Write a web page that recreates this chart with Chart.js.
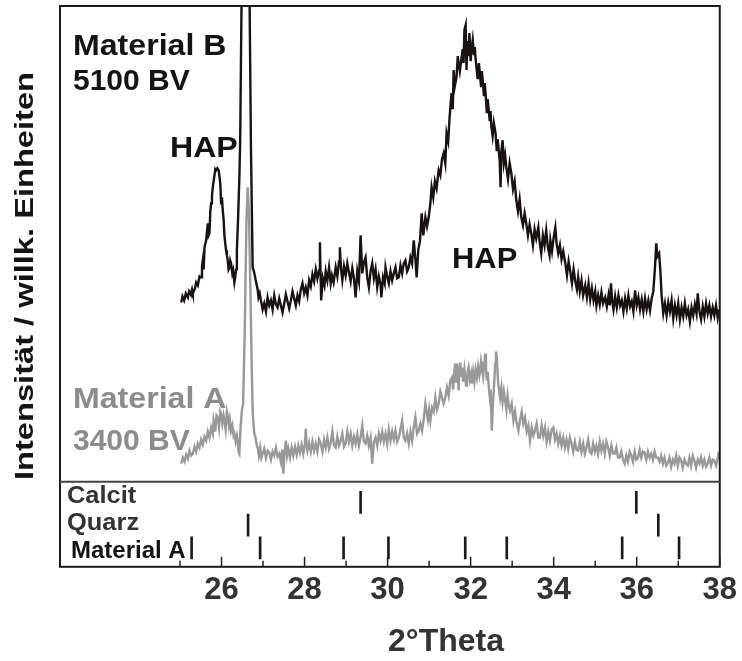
<!DOCTYPE html>
<html><head><meta charset="utf-8">
<script src="https://cdn.jsdelivr.net/npm/chart.js@4/dist/chart.umd.min.js"></script>
<style>html,body{margin:0;padding:0;background:#fff}#wrap{width:742px;height:661px;position:relative}</style>
</head><body><div id="wrap"><canvas id="c"></canvas></div>
<script>
// ---- data (2θ in degrees, intensity in arbitrary units) ----
const materialB2Theta = [
25.03,25.06,25.10,25.14,25.19,25.22,25.26,25.29,25.31,25.36,
25.39,25.43,25.47,25.51,25.53,25.55,25.57,25.59,25.63,25.67,
25.69,25.71,25.73,25.75,25.77,25.79,25.81,25.83,25.85,25.87,
25.90,25.93,25.95,25.97,25.99,26.01,26.03,26.05,26.07,26.09,
26.11,26.13,26.15,26.17,26.19,26.21,26.23,26.26,26.28,26.31,
26.33,26.35,26.37,26.40,26.43,26.45,26.58,26.71,26.75,26.78,
26.81,26.84,26.87,26.89,26.92,26.95,26.99,27.03,27.07,27.11,
27.15,27.19,27.23,27.27,27.31,27.35,27.39,27.43,27.47,27.51,
27.55,27.59,27.63,27.67,27.71,27.75,27.79,27.83,27.87,27.91,
27.95,27.99,28.03,28.07,28.11,28.15,28.19,28.23,28.27,28.31,
28.35,28.37,28.40,28.44,28.48,28.51,28.55,28.59,28.63,28.66,
28.70,28.75,28.79,28.83,28.85,28.88,28.91,28.95,28.99,29.03,
29.07,29.11,29.15,29.19,29.23,29.27,29.31,29.35,29.39,29.43,
29.47,29.51,29.55,29.59,29.63,29.67,29.71,29.75,29.79,29.83,
29.85,29.89,29.93,29.95,29.99,30.03,30.07,30.11,30.15,30.19,
30.23,30.27,30.31,30.35,30.39,30.43,30.47,30.51,30.55,30.59,
30.63,30.67,30.70,30.74,30.78,30.82,30.86,30.91,30.95,30.99,
31.03,31.06,31.10,31.14,31.18,31.23,31.27,31.31,31.35,31.39,
31.42,31.46,31.49,31.52,31.54,31.57,31.59,31.62,31.66,31.69,
31.71,31.74,31.78,31.81,31.83,31.85,31.88,31.90,31.92,31.95,
31.97,32.00,32.02,32.05,32.08,32.10,32.12,32.14,32.17,32.20,
32.22,32.25,32.27,32.29,32.32,32.34,32.36,32.39,32.41,32.43,
32.46,32.48,32.50,32.53,32.56,32.60,32.63,32.65,32.67,32.70,
32.72,32.74,32.77,32.80,32.83,32.86,32.90,32.94,32.98,33.02,
33.06,33.10,33.14,33.18,33.22,33.26,33.30,33.34,33.38,33.42,
33.46,33.50,33.54,33.58,33.63,33.66,33.70,33.74,33.78,33.82,
33.86,33.90,33.92,33.96,34.00,34.04,34.07,34.11,34.15,34.19,
34.23,34.28,34.32,34.36,34.40,34.44,34.48,34.52,34.56,34.59,
34.63,34.67,34.71,34.76,34.80,34.84,34.88,34.92,34.96,35.00,
35.03,35.07,35.11,35.15,35.19,35.24,35.28,35.32,35.35,35.38,
35.41,35.44,35.48,35.52,35.56,35.60,35.64,35.68,35.72,35.76,
35.80,35.84,35.88,35.92,35.96,36.00,36.04,36.08,36.12,36.16,
36.20,36.24,36.28,36.32,36.36,36.40,36.44,36.47,36.50,36.54,
36.57,36.60,36.64,36.68,36.72,36.76,36.80,36.84,36.88,36.92,
36.96,37.00,37.04,37.08,37.12,37.16,37.20,37.24,37.28,37.32,
37.36,37.40,37.44,37.47,37.51,37.55,37.59,37.63,37.67,37.71,
37.75,37.79,37.83,37.87,37.91,37.95,37.98];
const materialBIntensity = [
179,185,181,188,184,190,187,192,188,193,
199,196,205,204,215,221,212,234,241,258,
246,248,270,278,285,294,300,306,312,311,
313,311,305,298,278,284,271,262,246,238,
231,226,221,212,214,221,218,208,211,199,
204,212,231,264,304,341,900,331,214,210,
204,198,192,184,188,181,172,178,170,184,
176,181,172,186,177,174,183,176,169,178,
187,180,173,181,190,183,176,186,180,192,
198,188,194,186,201,195,207,200,212,203,
211,239,181,203,196,210,201,214,198,206,
199,214,205,220,234,212,201,215,206,218,
209,200,213,203,184,210,200,246,208,219,
224,204,194,210,218,203,212,194,205,197,
184,204,198,214,205,198,210,201,208,214,
203,204,216,208,218,221,210,214,224,218,
241,222,204,232,240,268,246,264,255,264,
278,294,284,300,293,311,306,322,328,318,
348,340,362,378,388,372,411,395,404,425,
418,410,423,432,418,451,456,411,440,425,
448,420,431,441,426,434,422,414,402,418,
408,395,410,401,385,398,388,368,382,374,
360,370,354,345,358,348,330,342,334,320,
294,330,341,318,326,314,302,318,308,292,
300,281,270,282,264,256,268,258,246,257,
248,236,252,243,254,240,228,246,236,251,
234,226,241,230,244,254,238,228,236,222,
230,218,206,220,210,198,212,200,192,204,
190,201,186,196,184,198,182,193,181,190,
176,186,177,189,178,184,175,186,176,198,
180,172,185,174,186,176,181,170,183,173,
186,175,180,170,191,176,184,172,182,170,
183,172,181,171,183,190,214,238,225,228,
210,186,168,178,166,179,170,181,163,176,
166,178,162,174,165,178,166,172,160,174,
166,177,168,188,170,162,175,165,178,168,
176,165,174,166,176,164,172];

const materialA2Theta = [
25.03,25.07,25.11,25.15,25.19,25.23,25.27,25.31,25.35,25.39,
25.43,25.47,25.51,25.55,25.59,25.63,25.67,25.71,25.75,25.79,
25.81,25.83,25.85,25.88,25.91,25.94,25.97,25.99,26.02,26.05,
26.07,26.10,26.13,26.15,26.18,26.20,26.23,26.26,26.29,26.31,
26.34,26.37,26.39,26.41,26.43,26.46,26.49,26.52,26.56,26.60,
26.63,26.66,26.70,26.73,26.75,26.77,26.79,26.82,26.85,26.87,
26.90,26.93,26.96,26.99,27.03,27.07,27.11,27.15,27.19,27.23,
27.27,27.31,27.35,27.39,27.43,27.46,27.49,27.52,27.55,27.58,
27.61,27.65,27.69,27.73,27.77,27.81,27.85,27.89,27.93,27.97,
28.01,28.03,28.05,28.07,28.11,28.15,28.19,28.23,28.27,28.31,
28.35,28.39,28.43,28.47,28.51,28.55,28.59,28.63,28.67,28.71,
28.75,28.79,28.83,28.87,28.91,28.95,28.99,29.03,29.07,29.11,
29.15,29.19,29.23,29.27,29.31,29.35,29.39,29.43,29.47,29.51,
29.55,29.59,29.63,29.67,29.71,29.75,29.79,29.83,29.87,29.91,
29.95,29.99,30.03,30.07,30.11,30.15,30.19,30.23,30.27,30.31,
30.35,30.39,30.43,30.47,30.51,30.55,30.59,30.63,30.67,30.71,
30.75,30.79,30.83,30.87,30.91,30.94,30.97,31.00,31.03,31.07,
31.11,31.15,31.19,31.23,31.27,31.31,31.35,31.39,31.43,31.47,
31.51,31.55,31.58,31.61,31.63,31.65,31.67,31.69,31.71,31.73,
31.75,31.77,31.79,31.82,31.85,31.87,31.89,31.91,31.93,31.95,
31.98,32.01,32.03,32.06,32.09,32.12,32.15,32.18,32.21,32.23,
32.25,32.27,32.30,32.33,32.35,32.37,32.39,32.41,32.43,32.46,
32.48,32.51,32.54,32.57,32.59,32.61,32.63,32.66,32.69,32.71,
32.74,32.77,32.80,32.83,32.86,32.89,32.92,32.95,32.99,33.03,
33.07,33.11,33.15,33.19,33.23,33.27,33.31,33.35,33.39,33.43,
33.47,33.51,33.55,33.59,33.63,33.67,33.71,33.75,33.79,33.83,
33.87,33.91,33.95,33.99,34.03,34.07,34.11,34.15,34.19,34.23,
34.27,34.31,34.35,34.39,34.43,34.47,34.51,34.55,34.59,34.63,
34.67,34.71,34.75,34.79,34.83,34.87,34.91,34.95,34.99,35.03,
35.07,35.11,35.15,35.19,35.23,35.27,35.31,35.35,35.39,35.43,
35.47,35.51,35.55,35.59,35.63,35.67,35.71,35.75,35.79,35.83,
35.87,35.91,35.95,35.99,36.03,36.07,36.11,36.15,36.19,36.23,
36.27,36.31,36.35,36.39,36.43,36.47,36.51,36.55,36.59,36.63,
36.67,36.71,36.75,36.79,36.83,36.87,36.91,36.95,36.99,37.03,
37.07,37.11,37.15,37.19,37.23,37.27,37.31,37.35,37.39,37.43,
37.47,37.51,37.55,37.59,37.63,37.67,37.71,37.75,37.79,37.83,
37.87,37.91,37.95,37.98];
const materialAIntensity = [
18,24,20,27,23,31,26,28,35,30,
38,34,42,37,45,41,50,44,54,48,
62,58,50,66,64,54,70,68,58,66,
61,52,70,66,56,62,51,56,46,48,
40,46,41,30,28,55,71,78,151,260,
294,270,181,110,71,58,48,44,36,34,
26,34,24,28,33,24,31,29,22,30,
26,34,25,28,20,32,8,30,41,26,
33,24,34,26,35,27,36,29,37,28,
38,53,36,31,39,30,40,31,38,30,
42,38,30,42,34,44,33,39,50,36,
34,45,36,41,48,35,38,50,40,48,
36,45,38,47,36,44,56,40,38,46,
36,44,18,40,44,36,48,41,50,40,
48,38,52,41,50,42,51,40,44,52,
61,44,41,48,38,50,41,54,64,48,
51,58,51,62,78,70,62,72,61,74,
70,84,72,78,90,84,78,84,94,86,
101,104,92,112,118,100,118,108,91,110,
119,106,114,100,112,104,96,98,110,114,
102,108,98,110,100,112,104,115,106,111,
120,114,105,118,128,112,101,110,98,85,
92,51,80,100,118,130,124,100,90,84,
94,80,90,81,72,86,76,71,78,61,
70,58,51,62,70,58,64,50,56,41,
54,46,51,58,44,44,56,46,54,40,
50,41,52,54,42,48,38,46,36,44,
34,42,33,44,38,30,40,32,31,40,
30,38,28,34,42,30,28,38,30,36,
28,40,31,38,28,40,34,26,36,28,
28,34,24,24,30,22,18,26,20,30,
26,20,30,22,24,32,24,30,29,22,
30,24,28,22,30,24,24,20,26,18,
24,16,19,24,15,22,18,26,16,24,
21,14,22,18,16,24,16,26,21,14,
22,18,24,16,22,15,18,24,16,22,
21,16,23,30];

// reference patterns (stick positions, 2θ)
const calcitLines = [29.35, 35.99];
const quarzLines = [26.64, 36.52];
const materialALines = [25.28, 26.93, 28.94, 30.02, 31.87, 32.87, 35.65, 37.02];
const refNames = ['Material A', 'Quarz', 'Calcit'];

const majorTicks = [26, 28, 30, 32, 34, 36, 38];
const minorTicks = [25, 27, 29, 31, 33, 35, 37];

// ---- chart ----
const FONT = "'Liberation Sans', Arial, Helvetica, sans-serif";
const STICK_BASE = 0.28, STICK_PITCH = 0.8, STICK_LEN = 0.78;
const toPts = (xs, ys) => xs.map((x, i) => ({x, y: ys[i]}));
const sticks = (lines, row) => lines.map(x => ({x, y: [STICK_BASE + row * STICK_PITCH, STICK_BASE + row * STICK_PITCH + STICK_LEN]}));

function txt(ctx, s, x, y, size, color, sx, align) {
  ctx.save();
  ctx.font = 'bold ' + size + 'px ' + FONT;
  ctx.fillStyle = color;
  ctx.textBaseline = 'alphabetic';
  ctx.textAlign = align || 'left';
  ctx.translate(x, y);
  ctx.scale(sx || 1, 1);
  ctx.fillText(s, 0, 0);
  ctx.restore();
}

const decor = {
  id: 'decor',
  afterDatasetsDraw(chart) {
    const ctx = chart.ctx, a = chart.chartArea;
    const xs = chart.scales.x, yr = chart.scales.yRef;
    ctx.save();
    ctx.strokeStyle = '#1a1a1a';
    ctx.lineWidth = 2;
    ctx.strokeRect(a.left, a.top, a.right - a.left, a.bottom - a.top);
    ctx.strokeStyle = '#444';
    ctx.beginPath();
    ctx.moveTo(a.left, yr.top); ctx.lineTo(a.right, yr.top);
    ctx.stroke();
    ctx.lineWidth = 1.5;
    ctx.strokeStyle = '#222';
    majorTicks.forEach(v => {
      const p = xs.getPixelForValue(v);
      ctx.beginPath(); ctx.moveTo(p, a.bottom); ctx.lineTo(p, a.bottom - 10); ctx.stroke();
    });
    minorTicks.forEach(v => {
      const p = xs.getPixelForValue(v);
      ctx.beginPath(); ctx.moveTo(p, a.bottom); ctx.lineTo(p, a.bottom - 6); ctx.stroke();
    });
    ctx.restore();

    const L = a.left + 13;
    txt(ctx, 'Material B', L, 55, 30, '#141414', 1.07);
    txt(ctx, '5100 BV', L, 90, 30, '#141414', 1.0);
    txt(ctx, 'HAP', 170, 157, 30, '#141414', 1.07);
    txt(ctx, 'HAP', 452, 268, 30, '#141414', 1.03);
    txt(ctx, 'Material A', L, 408, 30, '#8c8c8c', 1.07);
    txt(ctx, '3400 BV', L, 450, 30, '#8c8c8c', 1.0);
    txt(ctx, refNames[2], a.left + 7, 503, 24, '#333', 1.06);
    txt(ctx, refNames[1], a.left + 7, 530, 24, '#333', 1.06);
    txt(ctx, refNames[0], a.left + 11, 558, 24, '#141414', 1.0);
    txt(ctx, '2°Theta', 446, 651, 32, '#333', 1.0, 'center');
    ctx.save();
    ctx.font = 'bold 26px ' + FONT;
    const w = ctx.measureText('Intensität / willk. Einheiten').width;
    ctx.translate(33, 276);
    ctx.rotate(-Math.PI / 2);
    txt(ctx, 'Intensität / willk. Einheiten', 0, 0, 26, '#141414', 408 / w, 'center');
    ctx.restore();
  }
};

new Chart(document.getElementById('c'), {
  type: 'line',
  data: {
    datasets: [
      {label: 'Material B (5100 BV)', data: toPts(materialB2Theta, materialBIntensity), yAxisID: 'y',
       borderColor: '#1a1212', borderWidth: 2.4, pointRadius: 0, tension: 0, order: 0},
      {label: 'Material A (3400 BV)', data: toPts(materialA2Theta, materialAIntensity), yAxisID: 'y',
       borderColor: '#999999', borderWidth: 2.4, pointRadius: 0, tension: 0, order: 1},
      {type: 'bar', label: 'Calcit', data: sticks(calcitLines, 2), yAxisID: 'yRef',
       backgroundColor: '#1a1a1a', barThickness: 2, grouped: false},
      {type: 'bar', label: 'Quarz', data: sticks(quarzLines, 1), yAxisID: 'yRef',
       backgroundColor: '#1a1a1a', barThickness: 2, grouped: false},
      {type: 'bar', label: 'Material A', data: sticks(materialALines, 0), yAxisID: 'yRef',
       backgroundColor: '#1a1a1a', barThickness: 2, grouped: false}
    ]
  },
  options: {
    responsive: true,
    maintainAspectRatio: false,
    animation: false,
    layout: {padding: {left: 60, right: 18, top: 6, bottom: 47}},
    plugins: {legend: {display: false}, tooltip: {enabled: false}},
    scales: {
      x: {
        type: 'linear', min: 22.11, max: 38, offset: false,
        grid: {display: false, offset: false, drawTicks: false},
        border: {display: false},
        afterBuildTicks: s => { s.ticks = majorTicks.map(v => ({value: v})); },
        ticks: {autoSkip: false, maxRotation: 0, padding: 5, color: '#333',
                font: {family: FONT, size: 31, weight: 'bold'},
                callback: v => String(v)}
      },
      yRef: {type: 'linear', position: 'left', stack: 'panel', stackWeight: 85,
             min: 0, max: 3, display: false},
      y: {type: 'linear', position: 'left', stack: 'panel', stackWeight: 475,
          min: 0, max: 475, display: false}
    }
  },
  plugins: [decor]
});
</script>
</body></html>
